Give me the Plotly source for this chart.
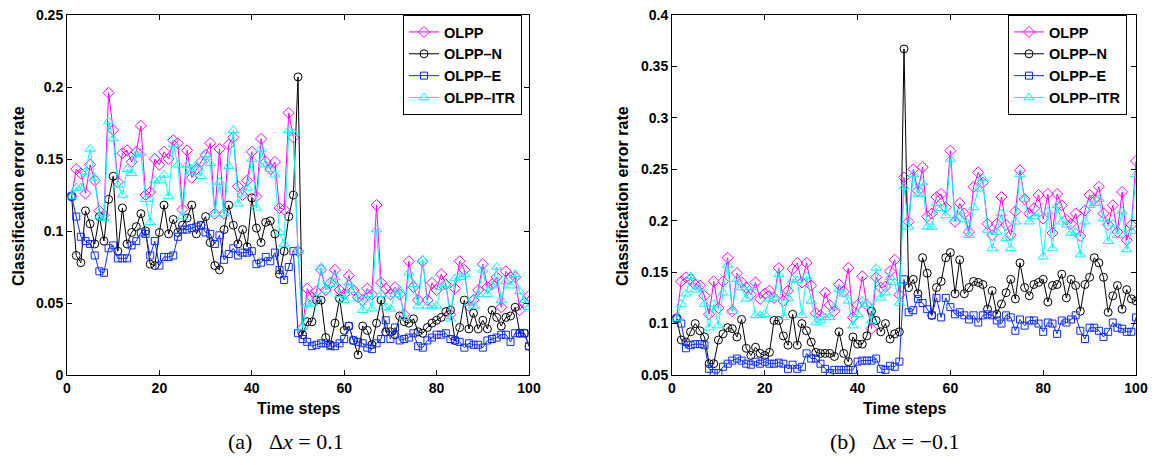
import plotly.graph_objects as go

steps = list(range(1, 101))

# ---- (a) dx = 0.1 ----
a_olpp = [0.124, 0.143, 0.140, 0.126, 0.146, 0.135, 0.114, 0.111, 0.196, 0.170,
          0.134, 0.154, 0.156, 0.148, 0.155, 0.173, 0.125, 0.127, 0.150, 0.146,
          0.155, 0.150, 0.163, 0.161, 0.115, 0.156, 0.137, 0.143, 0.148, 0.153,
          0.161, 0.112, 0.157, 0.112, 0.160, 0.165, 0.131, 0.125, 0.135, 0.155,
          0.124, 0.164, 0.148, 0.143, 0.148, 0.116, 0.115, 0.182, 0.165, 0.086,
          0.033, 0.060, 0.054, 0.058, 0.073, 0.059, 0.064, 0.073, 0.059, 0.056,
          0.069, 0.059, 0.054, 0.052, 0.060, 0.056, 0.118, 0.064, 0.060, 0.056,
          0.061, 0.056, 0.042, 0.079, 0.061, 0.052, 0.079, 0.052, 0.064, 0.059,
          0.070, 0.063, 0.042, 0.060, 0.079, 0.073, 0.048, 0.052, 0.059, 0.077,
          0.061, 0.063, 0.068, 0.047, 0.072, 0.068, 0.068, 0.045, 0.050, 0.055]
a_olpp_n = [0.124, 0.083, 0.078, 0.114, 0.105, 0.091, 0.110, 0.093, 0.122, 0.138,
            0.086, 0.116, 0.091, 0.099, 0.103, 0.112, 0.100, 0.077, 0.076, 0.099,
            0.118, 0.098, 0.108, 0.099, 0.104, 0.109, 0.118, 0.098, 0.104, 0.110,
            0.092, 0.076, 0.073, 0.101, 0.118, 0.104, 0.091, 0.101, 0.089, 0.123,
            0.102, 0.092, 0.106, 0.107, 0.098, 0.070, 0.086, 0.110, 0.125, 0.207,
            0.028, 0.037, 0.037, 0.052, 0.052, 0.026, 0.021, 0.036, 0.053, 0.031,
            0.034, 0.024, 0.014, 0.034, 0.031, 0.021, 0.036, 0.052, 0.030, 0.030,
            0.028, 0.041, 0.037, 0.036, 0.039, 0.030, 0.029, 0.033, 0.036, 0.038,
            0.040, 0.044, 0.045, 0.024, 0.033, 0.052, 0.032, 0.043, 0.032, 0.038,
            0.032, 0.045, 0.040, 0.034, 0.040, 0.041, 0.047, 0.029, 0.029, 0.020]
a_olpp_e = [0.124, 0.110, 0.096, 0.093, 0.091, 0.083, 0.072, 0.071, 0.088, 0.090,
            0.081, 0.081, 0.081, 0.090, 0.093, 0.099, 0.098, 0.083, 0.093, 0.076,
            0.082, 0.082, 0.083, 0.096, 0.101, 0.101, 0.102, 0.103, 0.104, 0.099,
            0.098, 0.091, 0.097, 0.080, 0.084, 0.088, 0.083, 0.085, 0.085, 0.086,
            0.077, 0.078, 0.082, 0.079, 0.085, 0.073, 0.066, 0.075, 0.086, 0.029,
            0.025, 0.023, 0.020, 0.021, 0.022, 0.022, 0.020, 0.020, 0.022, 0.025,
            0.034, 0.024, 0.023, 0.022, 0.019, 0.018, 0.022, 0.025, 0.038, 0.025,
            0.033, 0.024, 0.025, 0.026, 0.029, 0.020, 0.019, 0.024, 0.026, 0.028,
            0.028, 0.029, 0.025, 0.024, 0.023, 0.019, 0.022, 0.021, 0.021, 0.019,
            0.024, 0.025, 0.026, 0.028, 0.028, 0.023, 0.029, 0.029, 0.029, 0.020]
a_olpp_itr = [0.124, 0.130, 0.130, 0.141, 0.157, 0.137, 0.110, 0.109, 0.176, 0.164,
              0.132, 0.125, 0.143, 0.140, 0.153, 0.154, 0.122, 0.106, 0.135, 0.135,
              0.139, 0.124, 0.160, 0.146, 0.110, 0.146, 0.141, 0.146, 0.138, 0.153,
              0.147, 0.112, 0.134, 0.112, 0.145, 0.170, 0.119, 0.126, 0.130, 0.150,
              0.116, 0.157, 0.146, 0.143, 0.139, 0.099, 0.091, 0.170, 0.168, 0.086,
              0.033, 0.049, 0.050, 0.054, 0.075, 0.059, 0.063, 0.068, 0.056, 0.052,
              0.064, 0.059, 0.053, 0.045, 0.056, 0.046, 0.101, 0.056, 0.047, 0.046,
              0.056, 0.059, 0.040, 0.071, 0.063, 0.048, 0.080, 0.048, 0.048, 0.048,
              0.061, 0.063, 0.039, 0.067, 0.068, 0.070, 0.050, 0.048, 0.056, 0.073,
              0.056, 0.062, 0.075, 0.052, 0.065, 0.062, 0.070, 0.058, 0.052, 0.047]

# ---- (b) dx = -0.1 ----
b_olpp = [0.105, 0.141, 0.145, 0.143, 0.138, 0.137, 0.127, 0.109, 0.141, 0.115,
          0.141, 0.164, 0.112, 0.149, 0.140, 0.135, 0.128, 0.140, 0.124, 0.129,
          0.132, 0.125, 0.154, 0.122, 0.132, 0.153, 0.159, 0.140, 0.159, 0.137,
          0.110, 0.108, 0.130, 0.118, 0.112, 0.138, 0.131, 0.154, 0.106, 0.118,
          0.146, 0.118, 0.095, 0.145, 0.135, 0.136, 0.151, 0.162, 0.128, 0.242,
          0.199, 0.250, 0.229, 0.252, 0.204, 0.207, 0.223, 0.226, 0.213, 0.268,
          0.199, 0.217, 0.207, 0.189, 0.233, 0.247, 0.237, 0.197, 0.186, 0.197,
          0.223, 0.196, 0.186, 0.209, 0.249, 0.221, 0.207, 0.212, 0.225, 0.202,
          0.226, 0.188, 0.226, 0.215, 0.201, 0.197, 0.207, 0.185, 0.210, 0.225,
          0.221, 0.233, 0.207, 0.196, 0.215, 0.189, 0.228, 0.181, 0.196, 0.258]
b_olpp_n = [0.105, 0.084, 0.082, 0.092, 0.100, 0.093, 0.087, 0.061, 0.061, 0.084,
            0.090, 0.096, 0.095, 0.087, 0.104, 0.076, 0.069, 0.077, 0.071, 0.069,
            0.072, 0.103, 0.103, 0.088, 0.079, 0.109, 0.079, 0.100, 0.093, 0.082,
            0.072, 0.071, 0.071, 0.071, 0.068, 0.092, 0.071, 0.063, 0.087, 0.080,
            0.080, 0.088, 0.112, 0.103, 0.092, 0.100, 0.085, 0.090, 0.092, 0.367,
            0.135, 0.143, 0.129, 0.164, 0.149, 0.108, 0.135, 0.141, 0.164, 0.169,
            0.129, 0.162, 0.129, 0.135, 0.141, 0.140, 0.138, 0.114, 0.132, 0.109,
            0.119, 0.130, 0.143, 0.124, 0.159, 0.135, 0.127, 0.138, 0.140, 0.143,
            0.121, 0.137, 0.138, 0.148, 0.125, 0.143, 0.137, 0.112, 0.138, 0.145,
            0.164, 0.159, 0.145, 0.111, 0.127, 0.137, 0.114, 0.133, 0.124, 0.122]
b_olpp_e = [0.105, 0.100, 0.076, 0.079, 0.080, 0.080, 0.079, 0.056, 0.052, 0.052,
            0.058, 0.061, 0.064, 0.066, 0.064, 0.061, 0.060, 0.063, 0.061, 0.063,
            0.061, 0.061, 0.062, 0.061, 0.056, 0.060, 0.056, 0.058, 0.071, 0.066,
            0.066, 0.061, 0.056, 0.052, 0.055, 0.055, 0.055, 0.055, 0.055, 0.063,
            0.064, 0.064, 0.064, 0.066, 0.056, 0.055, 0.059, 0.058, 0.063, 0.143,
            0.111, 0.113, 0.124, 0.120, 0.114, 0.108, 0.125, 0.106, 0.125, 0.116,
            0.109, 0.111, 0.108, 0.104, 0.108, 0.101, 0.108, 0.109, 0.108, 0.103,
            0.100, 0.108, 0.106, 0.093, 0.104, 0.098, 0.103, 0.103, 0.100, 0.092,
            0.101, 0.100, 0.090, 0.103, 0.101, 0.104, 0.108, 0.093, 0.085, 0.096,
            0.096, 0.093, 0.087, 0.092, 0.101, 0.096, 0.095, 0.092, 0.092, 0.106]
b_olpp_itr = [0.105, 0.119, 0.129, 0.146, 0.133, 0.135, 0.119, 0.096, 0.119, 0.098,
              0.130, 0.157, 0.112, 0.143, 0.135, 0.124, 0.135, 0.108, 0.108, 0.109,
              0.124, 0.125, 0.148, 0.106, 0.125, 0.143, 0.142, 0.108, 0.146, 0.122,
              0.101, 0.103, 0.106, 0.106, 0.116, 0.133, 0.129, 0.122, 0.098, 0.109,
              0.122, 0.119, 0.103, 0.154, 0.125, 0.130, 0.145, 0.140, 0.120, 0.233,
              0.194, 0.245, 0.226, 0.237, 0.194, 0.194, 0.217, 0.212, 0.205, 0.260,
              0.202, 0.209, 0.201, 0.186, 0.213, 0.231, 0.241, 0.191, 0.173, 0.189,
              0.207, 0.183, 0.173, 0.199, 0.245, 0.221, 0.199, 0.204, 0.207, 0.165,
              0.209, 0.173, 0.215, 0.199, 0.196, 0.188, 0.189, 0.167, 0.199, 0.215,
              0.217, 0.221, 0.202, 0.180, 0.197, 0.186, 0.209, 0.172, 0.190, 0.245]

names = ["OLPP", "OLPP\u2013N", "OLPP\u2013E", "OLPP\u2013ITR"]
x_ticks = [0, 20, 40, 60, 80, 100]
a_yticks = [0, 0.05, 0.1, 0.15, 0.2, 0.25]
b_yticks = [0.05, 0.1, 0.15, 0.2, 0.25, 0.3, 0.35, 0.4]

# the page body adds an 8px margin; work in window pixel coordinates
OFF = 8
W, H = 1156 - OFF, 465 - OFF
def px(x):
    return (x - OFF) / W
def py(y):
    return 1 - (y - OFF) / H

styles = [
    dict(symbol="diamond-open", color="#ff00ff", size=8.5),
    dict(symbol="circle-open", color="#000000", size=8),
    dict(symbol="square-open", color="#0a2cff", size=7),
    dict(symbol="triangle-up-open", color="#00ffff", size=9),
]

fig = go.Figure()
panels = [
    ([a_olpp, a_olpp_n, a_olpp_e, a_olpp_itr], "x", "y", "legend"),
    ([b_olpp, b_olpp_n, b_olpp_e, b_olpp_itr], "x2", "y2", "legend2"),
]
for series, xa, ya, lg in panels:
    for name, vals, st in zip(names, series, styles):
        fig.add_trace(go.Scatter(
            x=steps, y=vals, name=name, mode="lines+markers",
            xaxis=xa, yaxis=ya, legend=lg,
            line=dict(color=st["color"], width=1),
            marker=dict(symbol=st["symbol"], size=st["size"], color=st["color"],
                        line=dict(color=st["color"], width=1)),
        ))

tickfont = dict(family="Liberation Sans", size=14, color="black", weight="bold")
axis_common = dict(showline=True, linecolor="black", linewidth=1, mirror="ticks",
                   ticks="inside", ticklen=5, tickcolor="black", showgrid=False,
                   zeroline=False, tickfont=tickfont, automargin=False,
                   ticklabeloverflow="allow")

ydom = [py(375), py(15)]
fig.update_layout(
    width=W, height=H, margin=dict(l=0, r=0, t=0, b=0, autoexpand=False),
    plot_bgcolor="white", paper_bgcolor="white",
    xaxis=dict(domain=[px(67), px(529)], range=[0, 100], tickvals=x_ticks, anchor="y", **axis_common),
    yaxis=dict(domain=ydom, range=[0, 0.25], tickvals=a_yticks, anchor="x", **axis_common),
    xaxis2=dict(domain=[px(672), px(1136)], range=[0, 100], tickvals=x_ticks, anchor="y2", **axis_common),
    yaxis2=dict(domain=ydom, range=[0.05, 0.4], tickvals=b_yticks, anchor="x2", **axis_common),
)

legend_common = dict(xanchor="right", yanchor="top", bgcolor="white", bordercolor="black",
                     borderwidth=1, tracegroupgap=0, itemwidth=30,
                     font=dict(family="Liberation Sans", size=14.5, color="black", weight="bold"))
fig.update_layout(
    legend=dict(x=px(522), y=py(15), **legend_common),
    legend2=dict(x=px(1127), y=py(15), **legend_common),
)

titlefont = dict(family="Liberation Sans", size=16, color="black", weight="bold")
capfont = dict(family="Liberation Serif", size=22, color="black")
ann = [
    dict(text="Time steps", x=px(298), y=py(408), font=titlefont),
    dict(text="Time steps", x=px(904), y=py(408), font=titlefont),
    dict(text="Classification error rate", x=px(18), y=py(196), textangle=-90, font=titlefont),
    dict(text="Classification error rate", x=px(622), y=py(196), textangle=-90, font=titlefont),
    dict(text="(a) \u2002\u0394<i>x</i> = 0.1", x=px(286), y=py(441), font=capfont),
    dict(text="(b) \u2002\u0394<i>x</i> = \u22120.1", x=px(894), y=py(441), font=capfont),
]
for a in ann:
    fig.add_annotation(xref="paper", yref="paper", showarrow=False,
                       xanchor="center", yanchor="middle", **a)

fig.write_html("out.html")
